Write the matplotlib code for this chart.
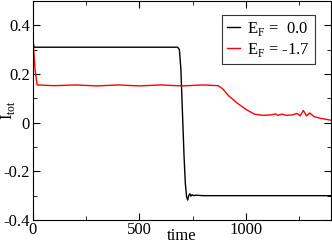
import matplotlib
matplotlib.use('Agg')
import matplotlib.pyplot as plt
from matplotlib.ticker import MultipleLocator

plt.rcParams['font.family'] = ['Liberation Serif', 'DejaVu Serif']
plt.rcParams['mathtext.fontset'] = 'custom'
plt.rcParams['mathtext.rm'] = 'Liberation Serif'

# E_F = 0.0 (black)
t_black = [0, 2, 5, 10, 100, 300, 500, 680, 688, 695, 700, 705, 710, 716, 722, 727, 732,
           737, 742, 748, 755, 765, 800, 1000, 1200, 1400]
i_black = [0.2, 0.33, 0.31, 0.31, 0.31, 0.31, 0.31, 0.31, 0.30, 0.22, 0.10, -0.02, -0.14,
           -0.25, -0.305, -0.318, -0.30, -0.292, -0.302, -0.296, -0.300, -0.298, -0.300,
           -0.300, -0.300, -0.300]

# E_F = -1.7 (red)
t_red = [0, 3, 10, 20, 100, 200, 300, 400, 500, 600, 700, 800, 870, 890, 920, 960, 1000,
         1040, 1080, 1120, 1140, 1150, 1170, 1190, 1220, 1240, 1255, 1270, 1285, 1300,
         1320, 1350, 1400]
i_red = [0.08, 0.31, 0.22, 0.155, 0.152, 0.155, 0.151, 0.155, 0.151, 0.155, 0.151, 0.155,
         0.152, 0.14, 0.11, 0.08, 0.055, 0.035, 0.03, 0.032, 0.036, 0.03, 0.035, 0.03,
         0.032, 0.038, 0.028, 0.05, 0.028, 0.04, 0.025, 0.018, 0.01]

fig = plt.figure(figsize=(3.32, 2.45), dpi=100)
ax = fig.add_axes([0.099, 0.102, 0.898, 0.894])

ax.plot(t_black, i_black, color='black', lw=1.0, label=r'E$_\mathrm{F}$ =  0.0')
ax.plot(t_red, i_red, color='red', lw=1.0, label=r'E$_\mathrm{F}$ = -1.7')

ax.set_xlim(0, 1400)
ax.set_ylim(-0.4, 0.5)
ax.xaxis.set_major_locator(MultipleLocator(500))
ax.xaxis.set_minor_locator(MultipleLocator(250))
ax.yaxis.set_minor_locator(MultipleLocator(0.1))
ax.set_yticks([-0.4, -0.2, 0, 0.2, 0.4])
ax.set_yticklabels(['-0.4', '-0.2', '0', '0.2', '0.4'])
ax.tick_params(which='both', direction='in', top=True, right=True, labelsize=12)
ax.tick_params(which='major', length=5)
ax.tick_params(which='minor', length=3)
ax.tick_params(axis='x', pad=1.5)
ax.tick_params(axis='y', pad=2)

ax.set_xlabel('time', fontsize=12)
ax.set_ylabel(r'I$_\mathrm{tot}$', fontsize=12)
ax.xaxis.set_label_coords(0.5, -0.093, transform=ax.transAxes)
ax.yaxis.set_label_coords(-0.082, 0.5, transform=ax.transAxes)
ax.xaxis.label.set_va('baseline')
ax.yaxis.label.set_va('center')

leg = ax.legend(loc='upper right', bbox_to_anchor=(0.946, 0.936), borderaxespad=0,
                fontsize=12, fancybox=False, handlelength=0.8, handletextpad=0.4,
                labelspacing=0.2, borderpad=0.3)
leg.get_frame().set_edgecolor('black')
leg.get_frame().set_linewidth(0.8)

fig.savefig('out.png', dpi=100)
